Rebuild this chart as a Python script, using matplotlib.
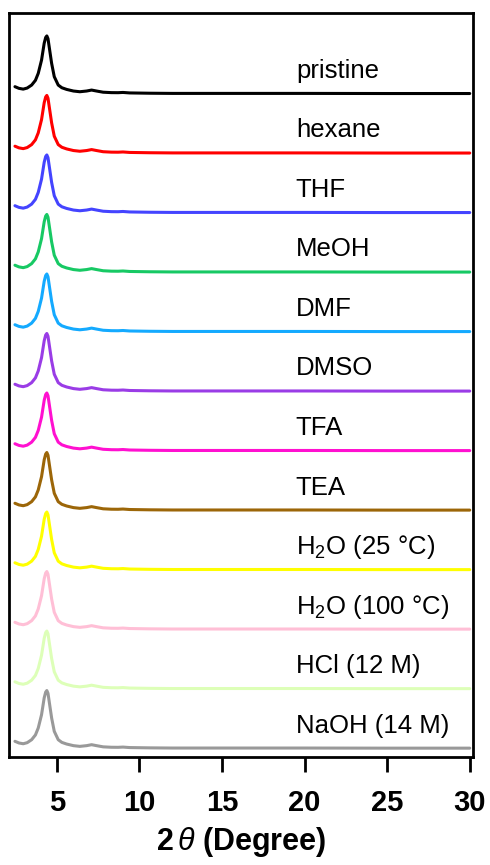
import matplotlib
matplotlib.use("Agg")
import matplotlib.pyplot as plt

plt.rcParams['font.family'] = ['Liberation Sans', 'DejaVu Sans']
plt.rcParams['mathtext.fontset'] = 'custom'
plt.rcParams['mathtext.rm'] = 'Liberation Sans'
plt.rcParams['mathtext.it'] = 'Liberation Sans:italic'
plt.rcParams['mathtext.bf'] = 'Liberation Sans:bold'

# ---- data ----
labels = ['pristine', 'hexane', 'THF', 'MeOH', 'DMF', 'DMSO', 'TFA', 'TEA',
          r'H$_2$O (25 °C)', r'H$_2$O (100 °C)', 'HCl (12 M)', 'NaOH (14 M)']
colors = ['#000000', '#ff0000', '#4444ff', '#17c964', '#14aaff', '#9a3ce6',
          '#ff10d0', '#9c6608', '#ffff00', '#ffbfd6', '#ddffb8', '#999999']
peak_scale = [1.0, 1.0, 1.0, 1.0, 1.0, 1.0, 1.0, 1.0, 1.0, 1.0, 1.0, 1.0]

two_theta = [2.46, 2.7, 2.96, 3.2, 3.47, 3.7, 3.87, 4.07, 4.23, 4.32, 4.39,
             4.46, 4.53, 4.68, 4.84, 5.08, 5.3, 5.59, 6.0, 6.39, 6.8, 7.1,
             7.4, 7.8, 8.3, 8.7, 9.0, 9.4, 10.6, 12.0, 15.0, 20.0, 25.0, 30.0]
intensity = [0.113, 0.085, 0.072, 0.09, 0.14, 0.22, 0.337, 0.56, 0.843, 0.94,
             0.966, 0.92, 0.788, 0.506, 0.281, 0.14, 0.095, 0.067, 0.04,
             0.028, 0.04, 0.056, 0.04, 0.02, 0.013, 0.012, 0.016, 0.008,
             0.003, 0.0, 0.0, 0.0, -0.002, -0.002]

xticks = [5, 10, 15, 20, 25, 30]

fig = plt.figure(figsize=(4.9, 8.65), dpi=100)
ax = fig.add_axes([0.0184, 0.1249, 0.947, 0.860])

n = len(labels)
for i, (lab, col, s) in enumerate(zip(labels, colors, peak_scale)):
    off = n - 1 - i
    ax.plot(two_theta, [off + s * v for v in intensity], color=col, lw=2.2,
            solid_joinstyle='round', solid_capstyle='round')
    ax.text(19.47, off + 0.26, lab, fontsize=18.5, color='black',
            ha='left', va='baseline')

ax.set_xlim(2.1, 30.2)
ax.set_ylim(-0.15, 12.35)
ax.set_yticks([])
ax.set_xticks(xticks)
ax.set_xticklabels([str(t) for t in xticks], fontsize=21, fontweight='bold')
ax.tick_params(axis='x', direction='out', length=11, width=2, pad=12)
for sp in ax.spines.values():
    sp.set_linewidth(2)
ax.set_xlabel(r'$\mathbf{2}\,\it{\theta}$ (Degree)', fontsize=22,
              fontweight='bold', labelpad=6)

fig.savefig('out.png', dpi=100)
